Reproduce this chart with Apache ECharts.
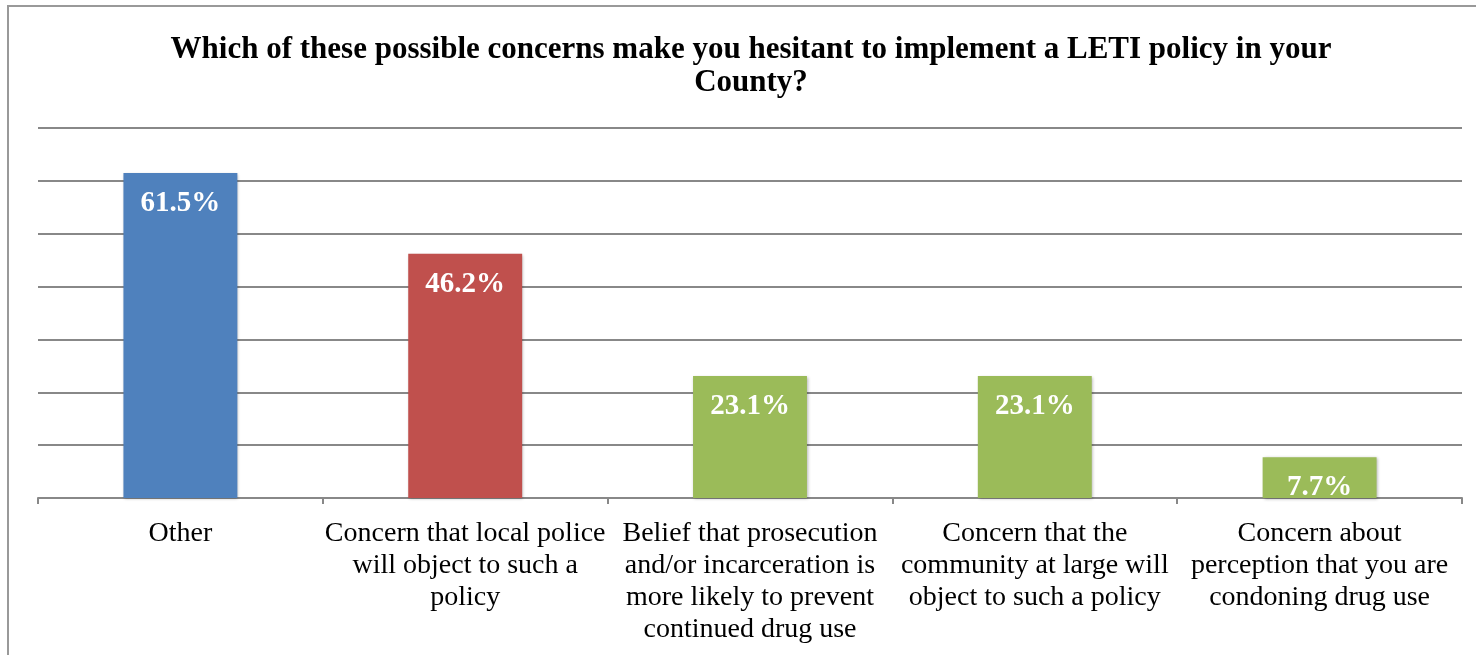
<!DOCTYPE html>
<html>
<head>
<meta charset="utf-8">
<script src="https://cdn.jsdelivr.net/npm/echarts@6/dist/echarts.min.js"></script>
<style>
  html, body { margin: 0; padding: 0; background: #fff; }
  #chart { width: 1476px; height: 655px; }
</style>
</head>
<body>
<div id="chart"></div>
<script>
// 图表数据
const titleText = 'Which of these possible concerns make you hesitant to implement a LETI policy in your\nCounty?'
const categories = [
  'Other',
  'Concern that local police\nwill object to such a\npolicy',
  'Belief that prosecution\nand/or incarceration is\nmore likely to prevent\ncontinued drug use',
  'Concern that the\ncommunity at large will\nobject to such a policy',
  'Concern about\nperception that you are\ncondoning drug use',
]
const values = [61.5, 46.2, 23.1, 23.1, 7.7]
const barColors = ['#4F81BD', '#C0504D', '#9BBB59', '#9BBB59', '#9BBB59']

const fontFamily = 'Liberation Serif, serif'

const chart = echarts.init(document.getElementById('chart'))

const options = {
  animation: false,
  backgroundColor: '#fff',
  title: {
    text: titleText,
    left: 746,
    top: 28,
    textAlign: 'center',
    textStyle: {
      fontFamily: fontFamily,
      fontWeight: 'bold',
      fontSize: 31,
      lineHeight: 33,
      color: '#000',
    },
  },
  graphic: [
    {
      type: 'rect',
      shape: { x: 8, y: 6, width: 1500, height: 700 },
      style: { fill: 'none', stroke: '#999', lineWidth: 2 },
      silent: true,
    },
  ],
  grid: {
    left: 38,
    right: 14,
    top: 128,
    bottom: 157,
    containLabel: false,
  },
  xAxis: {
    type: 'category',
    data: categories,
    axisLine: { lineStyle: { color: '#888', width: 2 } },
    axisTick: { show: true, length: 6, lineStyle: { color: '#888', width: 2 } },
    axisLabel: {
      interval: 0,
      margin: 20,
      fontFamily: fontFamily,
      fontSize: 28,
      lineHeight: 32,
      color: '#000',
    },
  },
  yAxis: {
    type: 'value',
    min: 0,
    max: 70,
    interval: 10,
    axisLabel: { show: false },
    axisLine: { show: false },
    axisTick: { show: false },
    splitLine: { lineStyle: { color: '#888', width: 2 } },
  },
  series: [
    {
      type: 'bar',
      barWidth: '40%',
      data: values.map((v, i) => ({
        value: v,
        itemStyle: { color: barColors[i] },
      })),
      itemStyle: {
        shadowBlur: 3,
        shadowColor: 'rgba(0,0,0,0.3)',
        shadowOffsetX: 1,
        shadowOffsetY: 1,
      },
      label: {
        show: true,
        position: 'insideTop',
        distance: 16,
        formatter: (p) => p.value.toFixed(1) + '%',
        fontFamily: fontFamily,
        fontWeight: 'bold',
        fontSize: 29,
        color: '#fff',
      },
    },
  ],
}

chart.setOption(options)
</script>
</body>
</html>
